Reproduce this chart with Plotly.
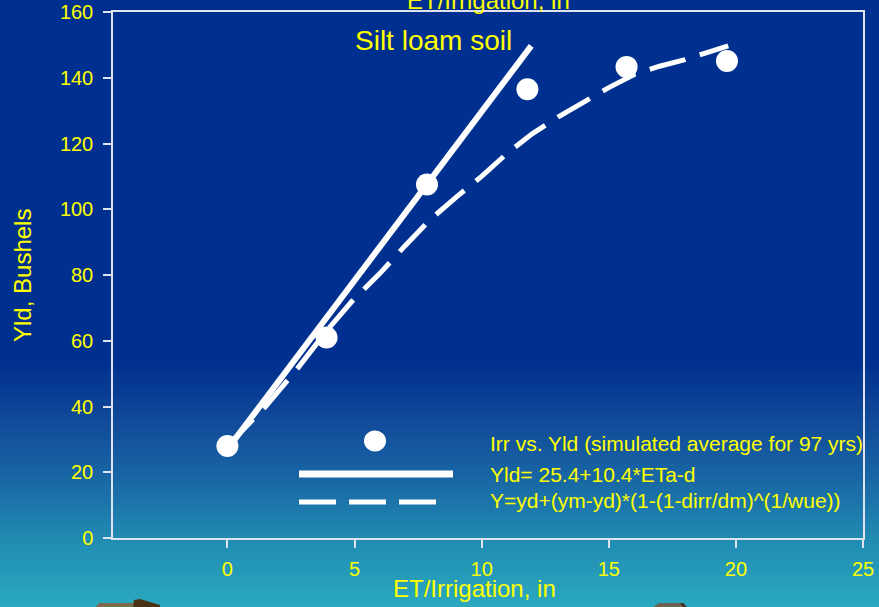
import plotly.graph_objects as go

# ---------------- data ----------------
obs_x = [0, 3.9, 7.85, 11.8, 15.7, 19.65]
obs_y = [28, 61, 107.5, 136.5, 143.3, 145.1]

lin_x = [0, 11.95]
lin_y = [27, 149.7]

curve_x = [0, 1.5, 2.7, 3.9, 4.9, 6.0, 7.0, 8.0, 9.0, 10.0, 11.0, 12.0, 13.0, 14.0, 15.0, 16.0, 17.0, 18.0, 19.0, 19.7]
curve_y = [28, 40, 51, 63, 72, 80.5, 89, 97, 103.7, 110, 117, 123, 128, 132.5, 137, 141, 143.5, 145.5, 148, 149.7]

x_ticks = [0, 5, 10, 15, 20, 25]
y_ticks = [0, 20, 40, 60, 80, 100, 120, 140, 160]

legend_labels = ["Irr vs. Yld (simulated average for 97 yrs)",
                 "Yld= 25.4+10.4*ETa-d",
                 "Y=yd+(ym-yd)*(1-(1-dirr/dm)^(1/wue))"]

# ---------------- layout helpers ----------------
FW, FH = 879, 607
L, T, W, H = 113, 12, 750, 526
FONT = "Liberation Sans, Arial, sans-serif"
YEL = "#ffff00"
AX = "#dfe3f0"


def px(x):
    return (x - L) / W


def py(y):
    return (T + H - y) / H


fig = go.Figure()
fig.add_trace(go.Scatter(x=curve_x, y=curve_y, mode="lines",
                         line=dict(color="white", width=5, dash="37px,15px"),
                         showlegend=False, hoverinfo="skip"))
fig.add_trace(go.Scatter(x=lin_x, y=lin_y, mode="lines",
                         line=dict(color="white", width=6),
                         showlegend=False, hoverinfo="skip"))
fig.add_trace(go.Scatter(x=obs_x, y=obs_y, mode="markers",
                         marker=dict(color="white", size=22, line=dict(width=0)),
                         showlegend=False, cliponaxis=False))

shapes = []
# background: solid top, gradient bottom
shapes.append(dict(type="rect", xref="paper", yref="paper", layer="below",
                   x0=px(0), x1=px(FW), y0=py(366), y1=py(-2),
                   fillcolor="rgb(0,48,143)", line=dict(width=0)))
stops = [(364, (0, 48, 143)), (420, (17, 74, 154)), (480, (25, 104, 165)),
         (540, (33, 140, 178)), (608, (42, 170, 192))]
y = 364
while y < 608:
    for (ya, ca), (yb, cb) in zip(stops[:-1], stops[1:]):
        if ya <= y < yb:
            t = (y - ya) / (yb - ya)
            c = tuple(int(round(a + (b - a) * t)) for a, b in zip(ca, cb))
            break
    shapes.append(dict(type="rect", xref="paper", yref="paper", layer="below",
                       x0=px(0), x1=px(FW), y0=py(y + 2.6), y1=py(y),
                       fillcolor="rgb(%d,%d,%d)" % c, line=dict(width=0)))
    y += 2


# decorative clip-art fragments at the bottom edge
def path(pts):
    return "M " + " L ".join("%f,%f" % (px(a), py(b)) for a, b in pts) + " Z"


shapes.append(dict(type="path", xref="paper", yref="paper", layer="above",
                   path=path([(95, 608), (99, 603), (135, 603), (135, 608)]),
                   fillcolor="#7b6a4e", line=dict(width=0)))
shapes.append(dict(type="path", xref="paper", yref="paper", layer="above",
                   path=path([(133, 608), (134, 600), (140, 599), (160, 605), (160, 608)]),
                   fillcolor="#4a3314", line=dict(width=0)))
shapes.append(dict(type="path", xref="paper", yref="paper", layer="above",
                   path=path([(652, 608), (659, 603), (681, 603), (686, 608)]),
                   fillcolor="#6d6352", line=dict(width=0)))
shapes.append(dict(type="path", xref="paper", yref="paper", layer="above",
                   path=path([(680, 603), (683, 603), (688, 608), (684, 608)]),
                   fillcolor="#3c2c16", line=dict(width=0)))

# legend symbols
shapes.append(dict(type="circle", xref="paper", yref="paper",
                   x0=px(375 - 11), x1=px(375 + 11), y0=py(441 + 10.5), y1=py(441 - 10.5),
                   fillcolor="white", line=dict(width=0)))
shapes.append(dict(type="line", xref="paper", yref="paper",
                   x0=px(299), x1=px(453), y0=py(474), y1=py(474),
                   line=dict(color="white", width=7)))
shapes.append(dict(type="line", xref="paper", yref="paper",
                   x0=px(299), x1=px(437), y0=py(502), y1=py(502),
                   line=dict(color="white", width=5, dash="37px,13px")))

annotations = []
for lab, yy in zip(legend_labels, [443, 474, 500]):
    annotations.append(dict(text=lab, xref="paper", yref="paper", x=px(488), y=py(yy),
                            xanchor="left", yanchor="middle", showarrow=False,
                            font=dict(family=FONT, size=21, color=YEL)))
annotations.append(dict(text="Silt loam soil", xref="paper", yref="paper",
                        x=px(433.5), y=py(40), xanchor="center", yanchor="middle",
                        showarrow=False, font=dict(family=FONT, size=28, color=YEL)))
annotations.append(dict(text="ET/Irrigation, in", xref="paper", yref="paper",
                        x=px(474), y=py(588), xanchor="center", yanchor="middle",
                        showarrow=False, font=dict(family=FONT, size=24, color=YEL)))
annotations.append(dict(text="ET/Irrigation, in", xref="paper", yref="paper",
                        x=px(488), y=py(0), xanchor="center", yanchor="middle",
                        showarrow=False, font=dict(family=FONT, size=24, color=YEL)))
annotations.append(dict(text="Yld, Bushels", xref="paper", yref="paper",
                        x=px(22), y=py(276), xanchor="center", yanchor="middle",
                        textangle=-90, showarrow=False,
                        font=dict(family=FONT, size=24, color=YEL)))

axis_common = dict(showgrid=False, zeroline=False, showline=True, linecolor=AX,
                   linewidth=1.5, mirror=True, ticks="outside", ticklen=8,
                   tickwidth=1.5, tickcolor=AX, automargin=False,
                   tickfont=dict(family=FONT, size=20, color=YEL))

fig.update_layout(
    width=FW, height=FH,
    margin=dict(l=L, r=FW - L - W, t=T, b=FH - T - H, pad=0, autoexpand=False),
    paper_bgcolor="rgb(0,48,143)", plot_bgcolor="rgba(0,0,0,0)",
    xaxis=dict(range=[-4.5, 25], tickvals=x_ticks, ticklabelstandoff=4, **axis_common),
    yaxis=dict(range=[0, 160], tickvals=y_ticks, ticklabelstandoff=6, **axis_common),
    shapes=shapes, annotations=annotations, showlegend=False,
)

fig.write_html("out.html")
